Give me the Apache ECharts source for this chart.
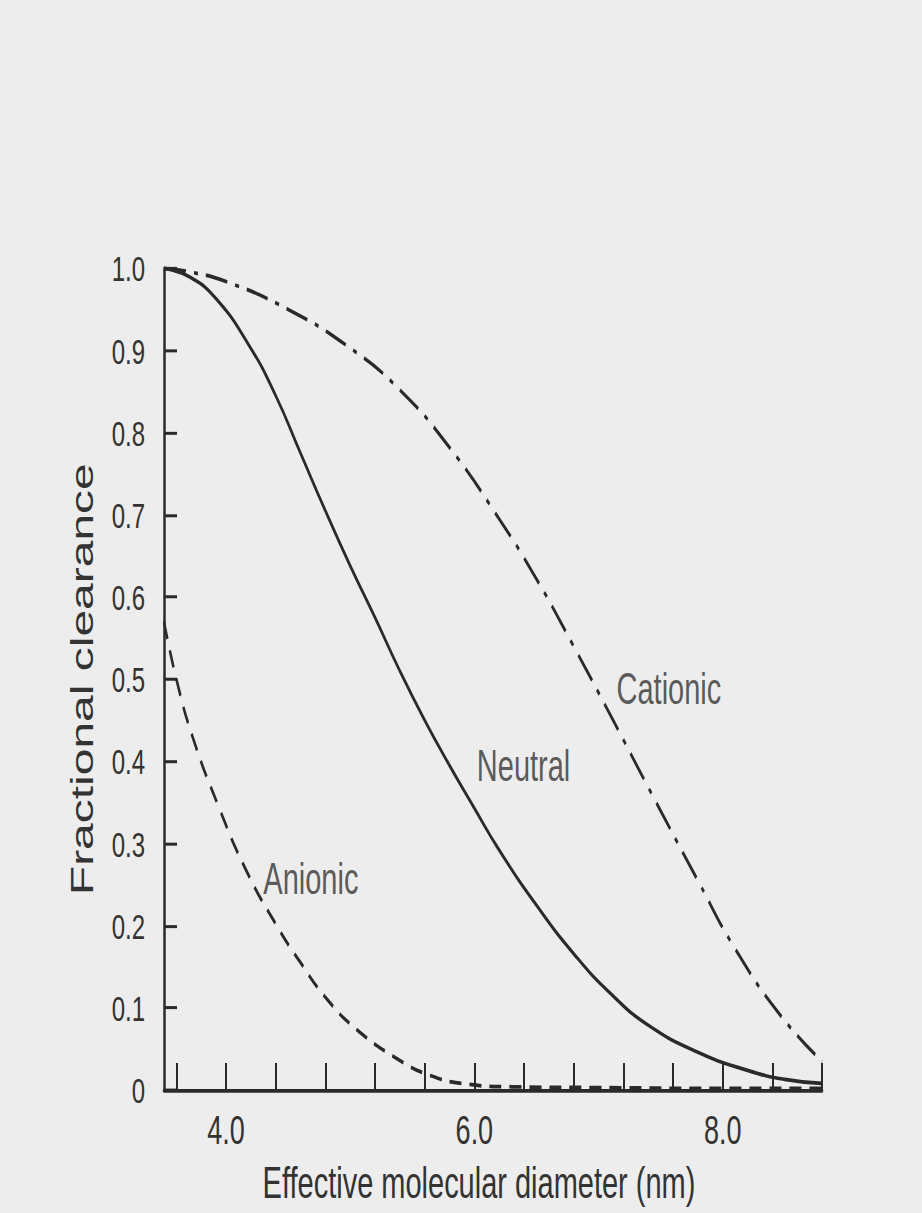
<!DOCTYPE html>
<html>
<head>
<meta charset="utf-8">
<script src="https://cdn.jsdelivr.net/npm/echarts@6/dist/echarts.min.js"></script>
<style>
  html, body { margin: 0; padding: 0; background: #ededed; overflow: hidden; width: 922px; height: 1213px; }
  #chart { width: 922px; height: 809px; transform: scaleY(1.4994); transform-origin: 0 0; }
</style>
</head>
<body>
<div id="chart"></div>
<script>
// ---- data ----
const xTickValues = [3.6, 4.0, 4.4, 4.8, 5.2, 5.6, 6.0, 6.4, 6.8, 7.2, 7.6, 8.0, 8.4, 8.8];
const xLabelValues = [4.0, 6.0, 8.0];

const cationicX = [3.5, 3.7, 4.0, 4.5, 5.0, 5.4, 5.8, 6.2, 6.5, 6.8, 7.1, 7.44, 7.8, 8.1, 8.46, 8.8];
const cationicY = [1.0, 0.996, 0.984, 0.95, 0.903, 0.852, 0.782, 0.695, 0.622, 0.54, 0.455, 0.357, 0.255, 0.172, 0.092, 0.035];

const neutralX = [3.5, 3.7, 3.92, 4.19, 4.4, 4.6, 4.8, 5.0, 5.2, 5.4, 5.6, 5.8, 6.0, 6.2, 6.5, 6.8, 7.1, 7.4, 7.8, 8.2, 8.5, 8.8];
const neutralY = [1.0, 0.99, 0.963, 0.905, 0.845, 0.775, 0.705, 0.638, 0.575, 0.51, 0.45, 0.395, 0.343, 0.292, 0.225, 0.166, 0.117, 0.079, 0.046, 0.024, 0.013, 0.008];

const anionicX = [3.5, 3.6, 3.73, 3.94, 4.16, 4.4, 4.6, 4.8, 5.05, 5.4, 5.64, 5.9, 6.3, 7.0, 8.0, 8.8];
const anionicY = [0.57, 0.5, 0.43, 0.345, 0.268, 0.202, 0.155, 0.113, 0.074, 0.036, 0.018, 0.008, 0.004, 0.003, 0.002, 0.002];

const labelNames = ['Cationic', 'Neutral', 'Anionic'];
const labelX = [7.145, 6.02, 4.30];
const labelY = [0.488, 0.394, 0.257];

const xTitle = 'Effective molecular diameter (nm)';
const yTitle = 'Fractional clearance';
// --------------------------------------

const zip = (xs, ys) => xs.map((x, i) => [x, ys[i]]);
const FONT = '"Liberation Sans", Arial, Helvetica, sans-serif';
const INK = '#2a2a2a';
const TXT = '#333333';

const chart = echarts.init(document.getElementById('chart'), null, { renderer: 'svg' });
chart.setOption({
  backgroundColor: '#ededed',
  animation: false,
  grid: { left: 164, right: 100, top: 179, bottom: 82, containLabel: false, outerBoundsMode: 'none' },
  xAxis: {
    type: 'value', min: 3.5, max: 8.8,
    name: xTitle, nameLocation: 'middle', nameGap: 48,
    nameTextStyle: { fontFamily: FONT, fontSize: 29, color: TXT, padding: [0, 28, 0, 0] },
    axisLine: { show: true, onZero: false, lineStyle: { color: INK, width: 2.5 } },
    axisTick: { show: true, inside: true, length: 18, customValues: xTickValues, lineStyle: { color: INK, width: 2 } },
    axisLabel: { show: true, customValues: xLabelValues, margin: 13, fontFamily: FONT, fontSize: 27, color: TXT,
                 formatter: v => Number(v).toFixed(1) },
    splitLine: { show: false }
  },
  yAxis: {
    type: 'value', min: 0, max: 1, interval: 0.1,
    name: yTitle, nameLocation: 'middle', nameGap: 66, nameRotate: 90,
    nameTextStyle: { fontFamily: FONT, fontSize: 32, color: TXT },
    axisLine: { show: true, lineStyle: { color: INK, width: 2.5 } },
    axisTick: { show: true, inside: true, length: 13, lineStyle: { color: INK, width: 2 } },
    axisLabel: { margin: 19, fontFamily: FONT, fontSize: 24, color: TXT,
                 formatter: v => (v === 0 ? '0' : v.toFixed(1)) },
    splitLine: { show: false }
  },
  series: [
    { name: 'Cationic', type: 'line', data: zip(cationicX, cationicY), smooth: 0.5, symbol: 'none',
      lineStyle: { color: INK, width: 2.5, type: [22, 8, 4, 8] } },
    { name: 'Neutral', type: 'line', data: zip(neutralX, neutralY), smooth: 0.5, symbol: 'none',
      lineStyle: { color: INK, width: 2.5, type: 'solid' } },
    { name: 'Anionic', type: 'line', data: zip(anionicX, anionicY), smooth: 0.5, symbol: 'none',
      lineStyle: { color: INK, width: 2.5, type: [12, 8] } },
    { name: 'labels', type: 'scatter', symbolSize: 0, silent: true,
      data: labelNames.map((n, i) => ({ name: n, value: [labelX[i], labelY[i]] })),
      label: { show: true, position: 'right', distance: 0, formatter: p => p.name,
               fontFamily: FONT, fontSize: 29, color: TXT } }
  ]
});
</script>
</body>
</html>
